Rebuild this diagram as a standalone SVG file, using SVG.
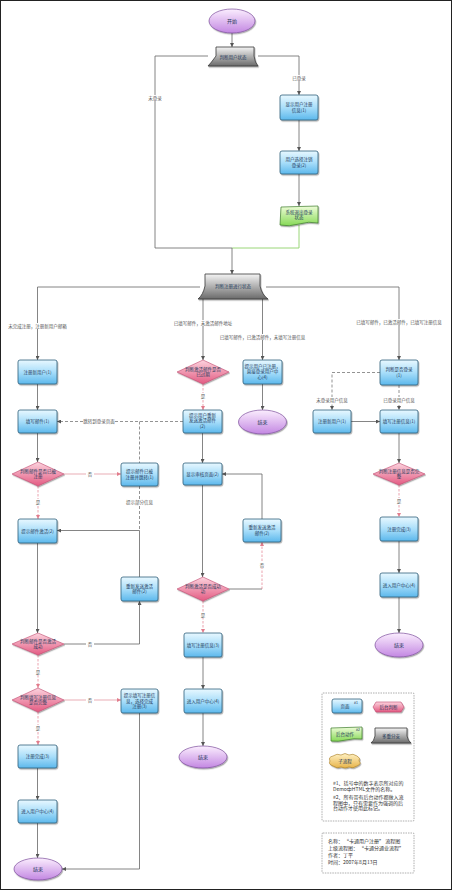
<svg xmlns="http://www.w3.org/2000/svg" width="452" height="890" viewBox="0 0 452 890">
<style>
.bx{fill:url(#gB);stroke:#2f5f7c;stroke-width:0.8;filter:url(#sh)}
.dm{fill:url(#gP);stroke:#c04a6e;stroke-width:0.6;filter:url(#sh)}
.el{fill:url(#gV);stroke:#7d4f9c;stroke-width:0.7;filter:url(#sh)}
.mb{fill:url(#gG);stroke:#3a3a3a;stroke-width:0.8;filter:url(#sh)}
.gr{fill:url(#gN);stroke:#3b7a2a;stroke-width:0.7;filter:url(#sh)}
.t{font-family:"Noto Sans CJK SC","Liberation Sans",sans-serif;font-size:4.5px;fill:#1f3a5a;text-anchor:middle}
.tl{font-family:"Noto Sans CJK SC","Liberation Sans",sans-serif;font-size:4.5px;fill:#555;text-anchor:middle}
.tn{font-family:"Noto Sans CJK SC","Liberation Sans",sans-serif;font-size:5px;fill:#333}
.c{fill:none;stroke:#666;stroke-width:0.8}
.cd{fill:none;stroke:#777;stroke-width:0.8;stroke-dasharray:3 2}
.cr{fill:none;stroke:#e27c8c;stroke-width:0.7;stroke-dasharray:2.5 1.5}
.cs{fill:none;stroke:#e08a96;stroke-width:0.7}
.cg{fill:none;stroke:#8fd16a;stroke-width:0.9}
.lb{fill:#fff}
.lg{fill:none;stroke:#999;stroke-width:0.8;stroke-dasharray:1.5 1}
</style>
<defs>
<linearGradient id="gB" x1="0" y1="0" x2="0" y2="1"><stop offset="0" stop-color="#e8f8ff"/><stop offset="0.5" stop-color="#a9defa"/><stop offset="1" stop-color="#5cb8ec"/></linearGradient>
<linearGradient id="gP" x1="0" y1="0" x2="0" y2="1"><stop offset="0" stop-color="#fcd3de"/><stop offset="1" stop-color="#e35a82"/></linearGradient>
<linearGradient id="gV" x1="0" y1="0" x2="0" y2="1"><stop offset="0" stop-color="#fbeefe"/><stop offset="1" stop-color="#c387e2"/></linearGradient>
<linearGradient id="gG" x1="0" y1="0" x2="0" y2="1"><stop offset="0" stop-color="#f4f4f4"/><stop offset="1" stop-color="#6b6b6b"/></linearGradient>
<linearGradient id="gN" x1="0" y1="0" x2="0" y2="1"><stop offset="0" stop-color="#eefdd8"/><stop offset="1" stop-color="#86d956"/></linearGradient>
<linearGradient id="gY" x1="0" y1="0" x2="0" y2="1"><stop offset="0" stop-color="#fff1c4"/><stop offset="1" stop-color="#e7b44a"/></linearGradient>
<filter id="sh" x="-20%" y="-20%" width="150%" height="160%"><feDropShadow dx="0.8" dy="1.2" stdDeviation="0.7" flood-color="#000" flood-opacity="0.35"/></filter>
<marker id="a" viewBox="0 0 6 6" refX="6" refY="3" markerWidth="4" markerHeight="4" markerUnits="userSpaceOnUse" orient="auto"><path d="M0,0 L6,3 L0,6 Z" fill="#555"/></marker>
<marker id="ar" viewBox="0 0 6 6" refX="6" refY="3" markerWidth="4" markerHeight="4" markerUnits="userSpaceOnUse" orient="auto"><path d="M0,0 L6,3 L0,6 Z" fill="#e27c8c"/></marker>
</defs>
<rect x="0.5" y="0.5" width="451" height="889" fill="#fff" stroke="#222" stroke-width="1"/>

<g id="connectors">
<path class="c" d="M232,33 V47" marker-end="url(#a)"/>
<path class="c" d="M208,56 H155 V248 H232"/>
<path class="c" d="M258,56 H299 V95" marker-end="url(#a)"/>
<path class="c" d="M299,120 V151" marker-end="url(#a)"/>
<path class="c" d="M299,174 V206" marker-end="url(#a)"/>
<path class="cg" d="M299,225 V248 H232"/>
<path class="c" d="M232,248 V274" marker-end="url(#a)"/>
<path class="c" d="M200,287 H37.5 V360" marker-end="url(#a)"/>
<path class="c" d="M203,299 V360" marker-end="url(#a)"/>
<path class="c" d="M262.5,299 V360" marker-end="url(#a)"/>
<path class="c" d="M266,287 H399 V360" marker-end="url(#a)"/>
<path class="c" d="M37.5,384 V410" marker-end="url(#a)"/>
<path class="c" d="M262.5,384 V410" marker-end="url(#a)"/>
<path class="cr" d="M203,384 V410" marker-end="url(#ar)"/>
<path class="cd" d="M183,421.5 H57" marker-end="url(#a)"/>
<path class="cd" d="M139.5,421.5 V463"/>
<path class="cd" d="M139.5,486 V530.5"/>
<path class="c" d="M139.5,577 V530.5 H57" marker-end="url(#a)"/>
<path class="c" d="M37.5,433 V462" marker-end="url(#a)"/>
<path class="cs" d="M64,474 H121" marker-end="url(#ar)"/>
<path class="cr" d="M38,486 V519" marker-end="url(#ar)"/>
<path class="c" d="M37.5,543 V633" marker-end="url(#a)"/>
<path class="c" d="M64,644 H139.5 V601" marker-end="url(#a)"/>
<path class="cr" d="M38,655 V688" marker-end="url(#ar)"/>
<path class="cs" d="M64,700 H121" marker-end="url(#ar)"/>
<path class="cr" d="M38,712 V745" marker-end="url(#ar)"/>
<path class="c" d="M37.5,768 V800" marker-end="url(#a)"/>
<path class="c" d="M37.5,823 V858" marker-end="url(#a)"/>
<path class="c" d="M139.5,713 V869 H62" marker-end="url(#a)"/>
<path class="c" d="M202.5,433 V463" marker-end="url(#a)"/>
<path class="c" d="M262,519 V474 H222" marker-end="url(#a)"/>
<path class="c" d="M202.5,485 V577" marker-end="url(#a)"/>
<path class="c" d="M229,589 H262"/>
<path class="cr" d="M262,589 V542" marker-end="url(#ar)"/>
<path class="cr" d="M203,601 V633" marker-end="url(#ar)"/>
<path class="c" d="M203,657 V689" marker-end="url(#a)"/>
<path class="c" d="M203,713 V746" marker-end="url(#a)"/>
<path class="cd" d="M380,372.5 H332 V410" marker-end="url(#a)"/>
<path class="cd" d="M399,385 V410" marker-end="url(#a)"/>
<path class="c" d="M351,421.5 H380" marker-end="url(#a)"/>
<path class="c" d="M399,433 V463" marker-end="url(#a)"/>
<path class="cr" d="M399,485 V517" marker-end="url(#ar)"/>
<path class="c" d="M399,541 V573" marker-end="url(#a)"/>
<path class="c" d="M399,597 V633" marker-end="url(#a)"/>
<!-- labels -->
<rect class="lb" x="147" y="95" width="16" height="6"/><text class="tl" x="155" y="99.6">未登录</text>
<rect class="lb" x="291" y="75" width="16" height="6"/><text class="tl" x="299" y="79.6">已登录</text>
<rect class="lb" x="7" y="323" width="61" height="6"/><text class="tl" x="37.5" y="327.6">未完成注册，注册新用户邮箱</text>
<rect class="lb" x="172" y="320" width="61" height="6"/><text class="tl" x="203" y="324.6">已填写邮件，未激活邮件地址</text>
<rect class="lb" x="218" y="334" width="89" height="6"/><text class="tl" x="262.5" y="338.6">已填写邮件，已激活邮件，未填写注册信息</text>
<rect class="lb" x="354" y="319" width="89" height="6"/><text class="tl" x="399" y="323.6">已填写邮件，已激活邮件，已填写注册信息</text>
<rect class="lb" x="199" y="393" width="8" height="6"/><text class="tl" x="203" y="397.6">是</text>
<rect class="lb" x="84" y="418.5" width="30" height="6"/><text class="tl" x="99" y="423.1">跳转到登录页面</text>
<rect class="lb" x="124" y="499" width="31" height="6"/><text class="tl" x="139.5" y="503.6">提示部分信息</text>
<rect class="lb" x="86" y="471" width="8" height="6"/><text class="tl" x="90" y="475.6">否</text>
<rect class="lb" x="34" y="499" width="8" height="6"/><text class="tl" x="38" y="503.6">是</text>
<rect class="lb" x="86" y="641" width="8" height="6"/><text class="tl" x="90" y="645.6">否</text>
<rect class="lb" x="34" y="669" width="8" height="6"/><text class="tl" x="38" y="673.6">是</text>
<rect class="lb" x="86" y="697" width="8" height="6"/><text class="tl" x="90" y="701.6">否</text>
<rect class="lb" x="34" y="725" width="8" height="6"/><text class="tl" x="38" y="729.6">是</text>
<rect class="lb" x="258" y="562" width="8" height="6"/><text class="tl" x="262" y="566.6">否</text>
<rect class="lb" x="199" y="612" width="8" height="6"/><text class="tl" x="203" y="616.6">是</text>
<rect class="lb" x="317" y="397" width="30" height="6"/><text class="tl" x="332" y="401.6">未登录用户信息</text>
<rect class="lb" x="384" y="397" width="30" height="6"/><text class="tl" x="399" y="401.6">已登录用户信息</text>
<rect class="lb" x="395" y="498" width="8" height="6"/><text class="tl" x="399" y="502.6">是</text>
</g>

<g id="start"><ellipse class="el" cx="232" cy="21" rx="23" ry="12"/><text class="t" x="232" y="22.8" style="font-size:5px">开始</text></g>
<g id="mb1"><path class="mb" d="M216,47 H254 V56 Q255,63 258,66 H208 Q211,63 216,56 Z"/><text class="t" x="233" y="59">判断用户状态</text></g>
<g id="nA"><rect class="bx" x="280" y="95" width="38" height="25" rx="2"/><text class="t" x="299" y="106.3">显示用户注册<tspan x="299" dy="5.5">信息(1)</tspan></text></g>
<g id="nB"><rect class="bx" x="280" y="151" width="38" height="23" rx="2"/><text class="t" x="299" y="161.3">用户选择注销<tspan x="299" dy="5.5">登录(2)</tspan></text></g>
<g id="nG"><path class="gr" d="M281,207 L318,206 V223 Q309,221 299,224 T280,225 Z"/><text class="t" x="299" y="213.5">系统退出登录<tspan x="299" dy="5.5">状态</tspan></text></g>
<g id="mb2"><path class="mb" d="M205,274 H260 V286 Q262,295 268,299 H198 Q203,295 205,286 Z"/><text class="t" x="233" y="288">判断注册进行状态</text></g>

<g id="L1"><rect class="bx" x="18" y="360" width="39" height="24" rx="2"/><text class="t" x="37.5" y="373.6">注册新用户(1)</text></g>
<g id="L2"><rect class="bx" x="18" y="410" width="39" height="23" rx="2"/><text class="t" x="37.5" y="423.1">填写邮件(1)</text></g>
<g id="L3"><polygon class="dm" points="12,474 38,462 64,474 38,486"/><text class="t" x="38" y="473">判断邮件是否已被<tspan x="38" dy="5">注册</tspan></text></g>
<g id="L3r"><rect class="bx" x="121" y="463" width="37" height="23" rx="2"/><text class="t" x="139.5" y="473.3">提示邮件已被<tspan x="139.5" dy="5.5">注册并跳转(1)</tspan></text></g>
<g id="L4"><rect class="bx" x="18" y="519" width="39" height="24" rx="2"/><text class="t" x="37.5" y="532.6">提示邮件激活(2)</text></g>
<g id="L5r"><rect class="bx" x="121" y="577" width="37" height="24" rx="2"/><text class="t" x="139.5" y="587.8">重新发送激活<tspan x="139.5" dy="5.5">邮件(2)</tspan></text></g>
<g id="L5"><polygon class="dm" points="12,644 38,633 64,644 38,655"/><text class="t" x="38" y="643">判断邮件是否激活<tspan x="38" dy="5">成功</tspan></text></g>
<g id="L6"><polygon class="dm" points="12,700 38,688 64,700 38,712"/><text class="t" x="38" y="699">判断填写注册信息<tspan x="38" dy="5">是否完整</tspan></text></g>
<g id="L6r"><rect class="bx" x="121" y="689" width="37" height="24" rx="2"/><text class="t" x="139.5" y="697">提示填写注册信<tspan x="139.5" dy="5.5">息，选择完成</tspan><tspan x="139.5" dy="5.5">注册(3)</tspan></text></g>
<g id="L7"><rect class="bx" x="18" y="745" width="39" height="23" rx="2"/><text class="t" x="37.5" y="758.1">注册完成(3)</text></g>
<g id="L8"><rect class="bx" x="18" y="800" width="39" height="23" rx="2"/><text class="t" x="37.5" y="813.1">进入用户中心(4)</text></g>
<g id="Lend"><ellipse class="el" cx="38" cy="869" rx="24" ry="11"/><text class="t" x="38" y="870.8" style="font-size:5px">结束</text></g>

<g id="M1"><polygon class="dm" points="177,372 203,360 229,372 203,384"/><text class="t" x="203" y="371">判断激活邮件是否<tspan x="203" dy="5">已过期</tspan></text></g>
<g id="M2"><rect class="bx" x="243" y="360" width="39" height="24" rx="2"/><text class="t" x="262.5" y="367.8">提示用户已注册，<tspan x="262.5" dy="5.5">直接登录用户中</tspan><tspan x="262.5" dy="5.5">心(4)</tspan></text></g>
<g id="Mend1"><ellipse class="el" cx="262.5" cy="422" rx="24" ry="12"/><text class="t" x="262.5" y="423.8" style="font-size:5px">结束</text></g>
<g id="M3"><rect class="bx" x="183" y="410" width="39" height="23" rx="2"/><text class="t" x="202.5" y="416.8">提示用户重新<tspan x="202.5" dy="5.5">发送激活邮件</tspan><tspan x="202.5" dy="5.5">(2)</tspan></text></g>
<g id="M4"><rect class="bx" x="183" y="463" width="39" height="22" rx="2"/><text class="t" x="202.5" y="475.6">显示审核页面(2)</text></g>
<g id="M5"><rect class="bx" x="243" y="519" width="38" height="23" rx="2"/><text class="t" x="262" y="529.3">重新发送激活<tspan x="262" dy="5.5">邮件(2)</tspan></text></g>
<g id="M6"><polygon class="dm" points="177,589 203,577 229,589 203,601"/><text class="t" x="203" y="588">判断激活是否成功<tspan x="203" dy="5">功</tspan></text></g>
<g id="M7"><rect class="bx" x="184" y="633" width="38" height="24" rx="2"/><text class="t" x="203" y="646.6">填写注册信息(3)</text></g>
<g id="M8"><rect class="bx" x="184" y="689" width="38" height="24" rx="2"/><text class="t" x="203" y="702.6">进入用户中心(4)</text></g>
<g id="Mend2"><ellipse class="el" cx="203" cy="757" rx="24" ry="11"/><text class="t" x="203" y="758.8" style="font-size:5px">结束</text></g>

<g id="R1"><rect class="bx" x="380" y="360" width="38" height="25" rx="2"/><text class="t" x="399" y="371.3">判断是否登录<tspan x="399" dy="5.5">(1)</tspan></text></g>
<g id="R2"><rect class="bx" x="313" y="410" width="38" height="23" rx="2"/><text class="t" x="332" y="423.1">注册新用户(1)</text></g>
<g id="R3"><rect class="bx" x="380" y="410" width="38" height="23" rx="2"/><text class="t" x="399" y="423.1">填写注册信息(1)</text></g>
<g id="R4"><polygon class="dm" points="373,474 399,463 425,474 399,485"/><text class="t" x="399" y="473">判断注册信息是否完<tspan x="399" dy="5">整</tspan></text></g>
<g id="R5"><rect class="bx" x="380" y="517" width="38" height="24" rx="2"/><text class="t" x="399" y="530.6">注册完成(3)</text></g>
<g id="R6"><rect class="bx" x="380" y="573" width="38" height="24" rx="2"/><text class="t" x="399" y="586.6">进入用户中心(4)</text></g>
<g id="Rend"><ellipse class="el" cx="399" cy="645" rx="24" ry="12"/><text class="t" x="399" y="646.8" style="font-size:5px">结束</text></g>

<g id="legend">
<rect class="lg" x="322" y="693" width="92" height="128" rx="1"/>
<rect class="bx" x="332" y="699" width="30" height="14" rx="2"/><text class="t" x="345" y="708">页面</text><text class="t" x="356" y="704" style="font-size:3.5px">#1</text>
<path class="dm" d="M376,702 H401 L404,707 L401,712 H376 L373,707 Z"/><text class="t" x="388.5" y="708.6">后台判断</text>
<path class="gr" d="M331,728 L362,727 V739 Q354,738 346,740 T331,741 Z"/><text class="t" x="345" y="736">后台动作</text><text class="t" x="358" y="731" style="font-size:3.5px">#2</text>
<path class="mb" d="M375,728 H407 V736 Q408,741 411,743 H371 Q374,741 375,736 Z"/><text class="t" x="391" y="738">多重分支</text>
<path d="M333,756 Q337,753 341,755 Q345,752 349,755 Q353,753 357,756 Q361,758 359,761 Q362,764 357,766 Q353,769 349,767 Q345,769 341,767 Q337,769 333,766 Q328,764 330,761 Q328,757 333,756 Z" fill="url(#gY)" stroke="#a67a20" stroke-width="0.6" filter="url(#sh)"/><text class="t" x="345" y="762.6">子流程</text>
<text class="tn" x="333" y="785">#1、括号中的数字表示所对应的</text>
<text class="tn" x="333" y="790.5">Demo中HTML文件的名称。</text>
<text class="tn" x="333" y="799">#2、所有带有后台动作都做入流</text>
<text class="tn" x="333" y="804.5">程图中，只有需要作为强调的后</text>
<text class="tn" x="333" y="810">台动作才使用此标记。</text>
</g>
<g id="info">
<rect class="lg" x="322" y="833" width="92" height="40" rx="1"/>
<text class="tn" x="328" y="843">名称：  “卡通用户注册” 流程图</text>
<text class="tn" x="328" y="850">上级流程图：  “卡通分通业流程”</text>
<text class="tn" x="328" y="857">作者：丁平</text>
<text class="tn" x="328" y="864">时间：2007年8月13日</text>
</g>
</svg>
